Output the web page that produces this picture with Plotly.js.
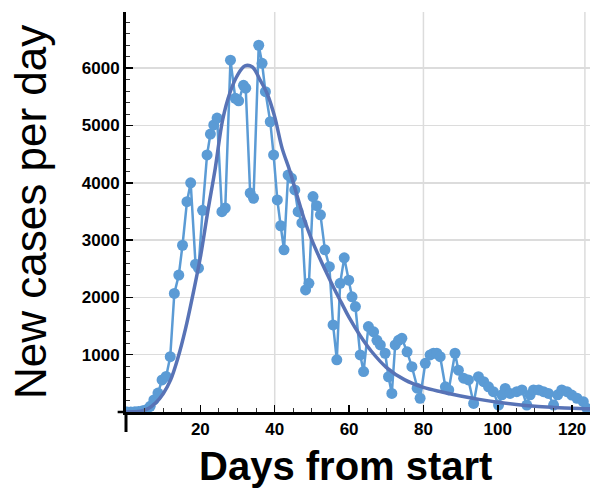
<!DOCTYPE html>
<html>
<head>
<meta charset="utf-8">
<script src="https://cdn.plot.ly/plotly-3.0.1.min.js"></script>
<style>
  html, body { margin: 0; padding: 0; background: #ffffff; }
  #chart { width: 590px; height: 492px; }
</style>
</head>
<body>
<div id="chart"></div>
<script>
// Daily new cases (markers + line)
var dataDays = [
  0.3, 1.3, 2.4, 3.4, 4.5, 5.5, 6.5, 7.5, 8.6, 9.7,
  10.8, 11.9, 13.0, 14.2, 15.2, 16.4, 17.4, 18.7, 19.5, 20.6,
  21.8, 22.7, 23.6, 24.5, 25.8, 26.7, 28.1, 29.4, 30.3, 31.6,
  32.2, 33.4, 34.3, 35.7, 36.6, 37.5, 38.8, 39.7, 40.7, 41.6,
  42.5, 43.6, 44.5, 45.4, 46.3, 47.3, 48.3, 49.2, 50.3, 51.3,
  52.3, 53.5, 54.7, 55.7, 56.7, 57.6, 58.7, 59.9, 60.8, 61.7,
  63.0, 63.9, 65.2, 66.6, 67.5, 68.4, 69.7, 70.6, 71.5, 72.4,
  73.3, 74.2, 75.6, 76.9, 78.3, 79.1, 80.5, 81.8, 82.7, 83.6,
  84.5, 85.9, 86.8, 88.5, 89.4, 90.8, 92.1, 93.5, 94.8, 96.2,
  97.5, 98.8, 100.2, 101.1, 102.0, 103.3, 105.1, 106.5, 107.8, 108.7,
  109.6, 111.0, 112.3, 113.6, 115.0, 116.1, 117.2, 118.6, 119.9, 121.3,
  123.0, 124.0
];
var dataCases = [
  0, 0, 5, 10, 20, 40, 100, 210, 330, 560,
  620, 965, 2070, 2390, 2910, 3670, 4000, 2580, 2510, 3520,
  4485, 4850, 5010, 5130, 3495, 3560, 6140, 5475, 5430, 5700,
  5650, 3820, 3730, 6400, 6085, 5590, 5065, 4485, 3700, 3250,
  2830, 4135, 4080, 3875, 3495, 3300, 2130, 2245, 3760, 3600,
  3440, 2830, 2535, 1520, 910, 2245, 2690, 2300, 2010, 1840,
  995, 705, 1490, 1400, 1250, 1170, 1025, 615, 325, 1170,
  1250, 1285, 1050, 790, 415, 240, 850, 995, 1025, 1025,
  965, 440, 385, 1025, 730, 590, 560, 150, 615, 530,
  440, 355, 120, 300, 410, 325, 355, 385, 120, 300,
  385, 385, 355, 325, 120, 300, 385, 355, 295, 240,
  180, 60
];

// Fitted smooth curve
var fitDays = [0, 2, 4, 6, 8, 10, 12, 14, 16, 18, 20, 22, 24, 26, 28, 30, 32, 34, 36, 38,
  40, 42, 44, 46, 48, 50, 52, 54, 56, 58, 60, 63, 66, 70, 75, 80, 85, 90, 95, 100,
  105, 110, 115, 120, 125];
var fitCases = [0, 3, 15, 60, 160, 320, 560, 950, 1450, 2050, 2700, 3500, 4250, 5100, 5580, 5880, 6040, 6020, 5800, 5550,
  5150, 4600, 4220, 3780, 3350, 3000, 2700, 2420, 2150, 1900, 1650, 1330, 1060, 780, 560, 430, 350, 280, 220, 170,
  130, 100, 80, 65, 55];

// Axis ticks and labels
var xTickVals = [20, 40, 60, 80, 100, 120];
var xTickText = ['20', '40', '60', '80', '100', '120'];
var yTickVals = [1000, 2000, 3000, 4000, 5000, 6000];
var yTickText = ['1000', '2000', '3000', '4000', '5000', '6000'];
var xGridVals = [40, 80];

var xTitle = 'Days from start';
var yTitle = 'New cases per day';

var tickFont = {family: 'Liberation Sans, Arial, sans-serif', size: 17, weight: 700, color: '#000'};

var traces = [
  {
    x: dataDays, y: dataCases, type: 'scatter', mode: 'lines+markers',
    line: {color: '#5B9BD5', width: 2.5},
    marker: {color: '#5B9BD5', size: 11},
    cliponaxis: true, hoverinfo: 'x+y'
  },
  {
    x: fitDays, y: fitCases, type: 'scatter', mode: 'lines',
    line: {color: '#5873B6', width: 3.5, shape: 'spline', smoothing: 1},
    hoverinfo: 'x+y'
  }
];

var shapes = xGridVals.map(function (v) {
  return {type: 'line', xref: 'x', yref: 'paper', x0: v, x1: v, y0: 0, y1: 1,
          line: {color: '#dcdcdc', width: 1.5}, layer: 'below'};
});
// right frame line (light)
shapes.push({type: 'line', xref: 'paper', yref: 'paper', x0: 0.989, x1: 0.989, y0: 0, y1: 1,
             line: {color: '#dcdcdc', width: 1.5}, layer: 'below'});
// axis crossing extensions
shapes.push({type: 'line', xref: 'paper', yref: 'paper', x0: 0, x1: 0, y0: 0, y1: -0.05,
             line: {color: '#000', width: 3}});
shapes.push({type: 'line', xref: 'paper', yref: 'paper', x0: -0.018, x1: 0, y0: 0, y1: 0,
             line: {color: '#000', width: 2.5}});

var layout = {
  width: 590, height: 492,
  margin: {l: 126, r: 0, t: 12, b: 80, pad: 0},
  paper_bgcolor: '#ffffff', plot_bgcolor: '#ffffff',
  showlegend: false,
  xaxis: {
    range: [0, 124.8], tickmode: 'array', tickvals: xTickVals, ticktext: xTickText,
    ticks: 'inside', ticklen: 7, tickwidth: 1.5, tickcolor: '#000',
    ticklabeloverflow: 'allow',
    showgrid: false, zeroline: false, showline: true, linecolor: '#000', linewidth: 2.5,
    minor: {dtick: 5, ticks: 'inside', ticklen: 4, tickwidth: 1, tickcolor: '#333', showgrid: false},
    tickfont: tickFont, fixedrange: true
  },
  yaxis: {
    range: [0, 6980], tickmode: 'array', tickvals: yTickVals, ticktext: yTickText,
    ticks: 'inside', ticklen: 7, tickwidth: 1.5, tickcolor: '#000',
    showgrid: true, gridcolor: '#dcdcdc', gridwidth: 1.5,
    zeroline: false, showline: true, linecolor: '#000', linewidth: 3,
    minor: {dtick: 200, ticks: 'inside', ticklen: 4, tickwidth: 1, tickcolor: '#333', showgrid: false},
    tickfont: tickFont, fixedrange: true
  },
  shapes: shapes,
  annotations: [
    {text: yTitle, xref: 'paper', yref: 'paper', x: -0.207, y: 0.5, xanchor: 'center', yanchor: 'middle',
     textangle: -90, showarrow: false,
     font: {family: 'Liberation Sans, Arial, sans-serif', size: 44, color: '#000'}},
    {text: xTitle, xref: 'paper', yref: 'paper', x: 0.472, y: -0.135, xanchor: 'center', yanchor: 'middle',
     showarrow: false,
     font: {family: 'Liberation Sans, Arial, sans-serif', size: 40, weight: 700, color: '#000'}}
  ]
};

Plotly.newPlot('chart', traces, layout, {displayModeBar: false, staticPlot: true});
</script>
</body>
</html>
